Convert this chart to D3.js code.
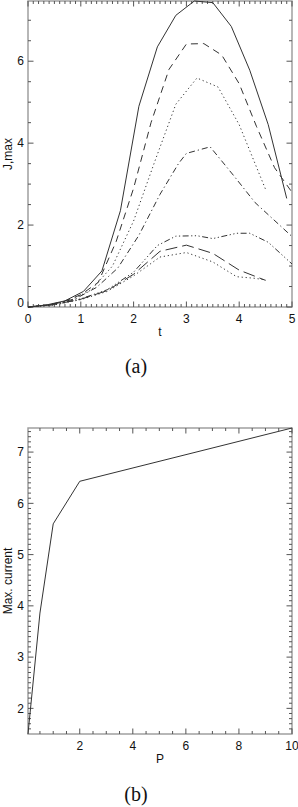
<!DOCTYPE html>
<html>
<head>
<meta charset="utf-8">
<script src="https://cdn.jsdelivr.net/npm/d3@7"></script>
<style>
  html, body { margin: 0; padding: 0; background: #fff; }
  svg { display: block; }
  .tick-label, .axis-title { font-family: "Liberation Sans", Arial, sans-serif; font-size: 12px; fill: #111; }
  .panel-label { font-family: "Liberation Serif", "Times New Roman", serif; font-size: 20px; fill: #111; }
</style>
</head>
<body>
<div id="chart"></div>
<script>
// ---- panel (a): J,max against t, seven runs ----
const tSolid = [0, 0.35, 0.7, 1.05, 1.4, 1.75, 2.1, 2.45, 2.8, 3.15, 3.5, 3.85, 4.2, 4.55, 4.9];
const jSolid = [0, 0.05, 0.15, 0.38, 0.88, 2.35, 4.9, 6.35, 7.12, 7.47, 7.43, 6.85, 5.78, 4.45, 2.65];

const tDash = [0, 0.33, 0.67, 1.0, 1.33, 1.67, 2.0, 2.33, 2.67, 3.0, 3.33, 3.67, 4.0, 4.33, 4.67, 5.0];
const jDash = [0, 0.04, 0.13, 0.3, 0.6, 1.6, 2.9, 4.5, 5.8, 6.42, 6.43, 6.15, 5.45, 4.4, 3.4, 2.8];

const tDot = [0, 0.4, 0.8, 1.2, 1.6, 2.0, 2.4, 2.8, 3.2, 3.6, 4.0, 4.5];
const jDot = [0, 0.05, 0.16, 0.42, 1.0, 2.1, 3.55, 4.95, 5.59, 5.37, 4.45, 2.87];

const tDashDot = [0, 0.45, 0.9, 1.3, 1.7, 2.1, 2.5, 2.85, 3.0, 3.45, 3.9, 4.3, 5.0];
const jDashDot = [0, 0.06, 0.2, 0.48, 0.95, 1.75, 2.75, 3.5, 3.75, 3.91, 3.2, 2.55, 1.72];

const tDash3Dot = [0, 0.5, 1.0, 1.5, 2.0, 2.45, 2.8, 3.2, 3.5, 3.95, 4.2, 4.55, 5.0];
const jDash3Dot = [0, 0.06, 0.2, 0.42, 0.85, 1.5, 1.73, 1.74, 1.67, 1.8, 1.8, 1.58, 1.05];

const tLongDash = [0, 0.5, 1.0, 1.5, 2.0, 2.5, 3.0, 3.5, 4.0, 4.5];
const jLongDash = [0, 0.06, 0.19, 0.4, 0.8, 1.36, 1.51, 1.31, 0.9, 0.65];

const tDot2 = [0, 0.5, 1.0, 1.5, 2.0, 2.5, 3.0, 3.5, 3.95, 4.3, 4.5];
const jDot2 = [0, 0.05, 0.18, 0.38, 0.76, 1.22, 1.33, 1.1, 0.74, 0.7, 0.66];

const xTicksA = [0, 1, 2, 3, 4, 5];
const yTicksA = [0, 2, 4, 6];

// ---- panel (b): max current against P ----
const pVals = [0.05, 0.5, 1, 2, 10];
const maxCurrent = [1.5, 3.86, 5.6, 6.43, 7.47];

const xTicksB = [2, 4, 6, 8, 10];
const yTicksB = [2, 3, 4, 5, 6, 7];

const W = 298, H = 807;
const left = 28, right = 292;

const svg = d3.select('#chart').append('svg')
    .attr('width', W).attr('height', H);

// IDL style box: ticks pointing inward on all four sides
function frame(g, x, y, o) {
    const [x0, x1] = x.range();
    const [yb, yt] = y.range();
    const major = 5.5, minor = 3;

    g.append('rect')
        .attr('x', x0).attr('y', yt)
        .attr('width', x1 - x0).attr('height', yb - yt)
        .attr('fill', 'none').attr('stroke', '#999').attr('stroke-width', 1.4);

    const tk = g.append('g').attr('stroke', '#555').attr('stroke-width', 1);

    o.xMinor.forEach(v => {
        const len = o.xMajor.some(m => Math.abs(m - v) < 1e-6) ? major : minor;
        tk.append('line').attr('x1', x(v)).attr('x2', x(v)).attr('y1', yb).attr('y2', yb - len);
        tk.append('line').attr('x1', x(v)).attr('x2', x(v)).attr('y1', yt).attr('y2', yt + len);
    });
    o.yMinor.forEach(v => {
        const len = o.yMajor.some(m => Math.abs(m - v) < 1e-6) ? major : minor;
        tk.append('line').attr('y1', y(v)).attr('y2', y(v)).attr('x1', x0).attr('x2', x0 + len);
        tk.append('line').attr('y1', y(v)).attr('y2', y(v)).attr('x1', x1).attr('x2', x1 - len);
    });

    g.selectAll('.xl').data(o.xMajor).join('text')
        .attr('class', 'tick-label')
        .attr('x', d => x(d)).attr('y', yb + 15.5)
        .attr('text-anchor', 'middle')
        .text(d => d);

    g.selectAll('.yl').data(o.yMajor).join('text')
        .attr('class', 'tick-label')
        .attr('x', x0 - 4)
        .attr('y', d => Math.min(y(d), yb - 4))
        .attr('dy', '0.35em')
        .attr('text-anchor', 'end')
        .text(d => d);

    g.append('text').attr('class', 'axis-title')
        .attr('x', (x0 + x1) / 2).attr('y', yb + 29)
        .attr('text-anchor', 'middle')
        .text(o.xTitle);

    g.append('text').attr('class', 'axis-title')
        .attr('transform', `translate(11.5,${(yb + yt) / 2}) rotate(-90)`)
        .attr('text-anchor', 'middle')
        .text(o.yTitle);
}

// ---------- panel (a) ----------
const seriesA = [
    {t: tSolid, j: jSolid, dash: null},
    {t: tDash, j: jDash, dash: '7,5'},
    {t: tDot, j: jDot, dash: '1.2,2.8'},
    {t: tDashDot, j: jDashDot, dash: '6,3,1.2,3'},
    {t: tDash3Dot, j: jDash3Dot, dash: '6,2.5,1.2,2.5,1.2,2.5,1.2,2.5'},
    {t: tLongDash, j: jLongDash, dash: '12,5'},
    {t: tDot2, j: jDot2, dash: '1.2,2.8'}
];

const xA = d3.scaleLinear().domain([0, 5]).range([left, right]);
const yA = d3.scaleLinear()
    .domain([0, d3.max(seriesA, s => d3.max(s.j))])
    .range([307, 1]);

const gA = svg.append('g');
frame(gA, xA, yA, {
    xMajor: xTicksA, xMinor: d3.range(0, 5.0001, 0.1),
    yMajor: yTicksA, yMinor: d3.range(0, 7.01, 0.5),
    xTitle: 't', yTitle: 'J,max'
});

const lineA = d3.line().x(d => xA(d[0])).y(d => yA(d[1]));

gA.append('g').selectAll('path')
    .data(seriesA)
    .join('path')
    .attr('d', s => lineA(d3.zip(s.t, s.j)))
    .attr('fill', 'none')
    .attr('stroke', '#333')
    .attr('stroke-width', 1)
    .attr('stroke-dasharray', s => s.dash);

gA.append('text').attr('class', 'panel-label')
    .attr('x', 136).attr('y', 373)
    .attr('text-anchor', 'middle')
    .text('(a)');

// ---------- panel (b) ----------
const xB = d3.scaleLinear().domain(d3.extent(pVals)).range([left, right]);
const yB = d3.scaleLinear().domain(d3.extent(maxCurrent)).range([734, 428]);

const gB = svg.append('g');
frame(gB, xB, yB, {
    xMajor: xTicksB, xMinor: d3.range(0.5, 10.0001, 0.5),
    yMajor: yTicksB, yMinor: d3.range(1.6, 7.41, 0.1).map(v => +v.toFixed(1)),
    xTitle: 'P', yTitle: 'Max. current'
});

const lineB = d3.line().x(d => xB(d[0])).y(d => yB(d[1]));

gB.append('path')
    .attr('d', lineB(d3.zip(pVals, maxCurrent)))
    .attr('fill', 'none')
    .attr('stroke', '#333')
    .attr('stroke-width', 1);

gB.append('text').attr('class', 'panel-label')
    .attr('x', 136).attr('y', 801)
    .attr('text-anchor', 'middle')
    .text('(b)');
</script>
</body>
</html>
